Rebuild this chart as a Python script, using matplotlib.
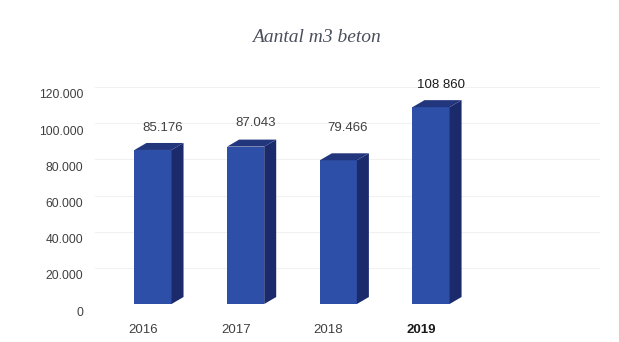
import matplotlib
matplotlib.use("Agg")
import matplotlib.pyplot as plt
from matplotlib.patches import Polygon
from matplotlib.transforms import ScaledTranslation

years = ["2016", "2017", "2018", "2019"]
volumes = [85176, 87043, 79466, 108860]
value_labels = ["85.176", "87.043", "79.466", "108 860"]
yticks = [0, 20000, 40000, 60000, 80000, 100000, 120000]
ytick_labels = ["0", "20.000", "40.000", "60.000", "80.000", "100.000", "120.000"]

FRONT = "#2d4fa8"
SIDE = "#1b2a6b"
TOP = "#22367d"
TEXT = "#404040"

W, H = 619, 342
fig = plt.figure(figsize=(W / 100, H / 100), dpi=100)
# axes placed in pixels: x=0 -> 153px, one category = 92.7px; y=0 -> 304px, 120000 -> 87px
ax = fig.add_axes([95 / W, 38 / H, 505 / W, 217 / H])
ax.set_xlim(-(153 - 95) / 92.7, 3 + (600 - 431) / 92.7)
ax.set_ylim(0, 120000)

bar_w = 0.40
dx = 12 / 92.7            # depth to the right
dy = 7 / 217 * 120000     # depth upwards

xs = list(range(len(years)))
ax.bar(xs, volumes, width=bar_w, color=FRONT, zorder=3)

for x, v in zip(xs, volumes):
    r = x + bar_w / 2
    l = x - bar_w / 2
    side = Polygon([(r, 0), (r + dx, dy), (r + dx, v + dy), (r, v)],
                   closed=True, facecolor=SIDE, edgecolor="none", zorder=3)
    top = Polygon([(l, v), (l + dx, v + dy), (r + dx, v + dy), (r, v)],
                  closed=True, facecolor=TOP, edgecolor="none", zorder=3)
    ax.add_patch(side)
    ax.add_patch(top)

# faint gridlines
for t in yticks[1:]:
    ax.axhline(t, color="#f1f1f1", lw=0.8, zorder=0)

# value labels above bars (offsets in points)
label_dy = [16, 17, 23, 16]
for x, v, lab, off in zip(xs, volumes, value_labels, label_dy):
    col = "#1a1a1a" if lab == value_labels[-1] else TEXT
    ax.annotate(lab, (x + dx * 0.8, v), xytext=(0, off), textcoords="offset points",
                ha="center", va="center", fontsize=9.5, color=col,
                family="Liberation Sans", zorder=4)

# y ticks
ax.set_yticks(yticks)
ax.set_yticklabels(ytick_labels, fontsize=8.7, color=TEXT, family="Liberation Sans")
ax.tick_params(axis="y", length=0, pad=8.5)
shift = ScaledTranslation(0, -7 / 100, fig.dpi_scale_trans)
for lab in ax.get_yticklabels():
    lab.set_transform(lab.get_transform() + shift)

# x category labels
ax.set_xticks([])
for x, yr in zip(xs, years):
    bold = yr == years[-1]
    ax.text(x - 10 / 92.7, -26 / 217 * 120000, yr, ha="center", va="center",
            fontsize=9.5, color="#1a1a1a" if bold else TEXT,
            fontweight="bold" if bold else "normal", family="Liberation Sans",
            clip_on=False)

for s in ax.spines.values():
    s.set_visible(False)

fig.text(316 / W, 1 - 37 / H, "Aantal m3 beton", ha="center", va="center",
         fontsize=14, style="italic", family="Liberation Serif", color="#4a4f5c")

fig.savefig("out.png", dpi=100)
